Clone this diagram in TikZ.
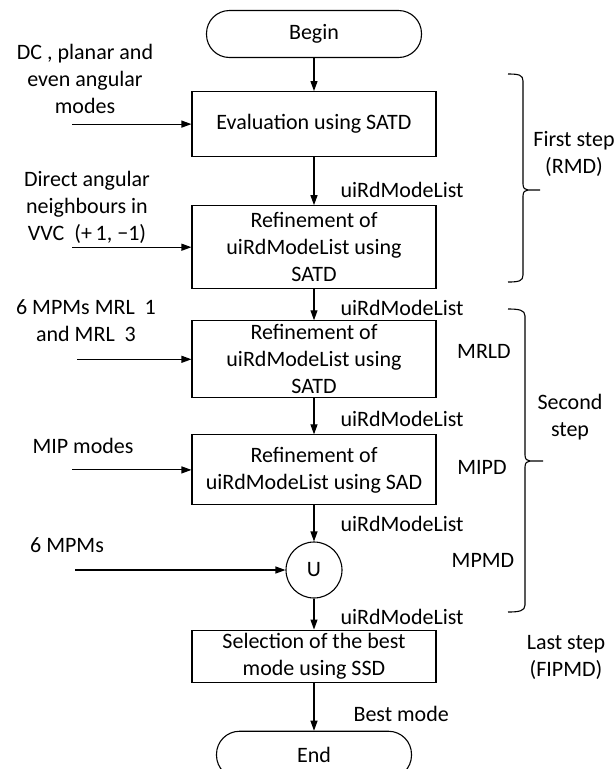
\documentclass[tikz,border=0pt]{standalone}
\usepackage{fontspec}
\setmainfont{Carlito}
\usepackage{tikz}
\usetikzlibrary{positioning,arrows.meta}
\tikzset{
	>={Triangle[length=10pt,width=7pt]},
	dedge/.style={arrows=->, black, line width=1.1pt},
	elabel/.style={anchor=west, inner sep=0pt, xshift=26pt},
}
\tikzstyle{nrect} = [rectangle, minimum width=244pt, line width=1.1pt, draw=black, align=center, inner sep=3pt]
\tikzstyle{nterm} = [nrect, minimum width=215pt, minimum height=47pt, rounded corners=23pt]
\tikzstyle{ntext} = [align=center, inner sep=0pt]
% top, tip, bottom, line x, tip x
\newcommand\stepbrace[5]{%
	\draw[line width=1.1pt] (508,#1) .. controls +(11,0) and +(0,-6) .. (#4,#1+7) -- (#4,#2-6)
		.. controls +(0,4) and +(-3,0) .. (#4+5,#2) -- (#5,#2);
	\draw[line width=1.1pt] (#4+5,#2) .. controls +(-3,0) and +(0,-4) .. (#4,#2+6) -- (#4,#3-7)
		.. controls +(0,6) and +(11,0) .. (508,#3);
}

\begin{document}
\begin{tikzpicture}[x=1pt, y=-1pt, font=\fontsize{22}{27}\selectfont]
	\useasboundingbox (0,0) rectangle (616,769);
	
	\node[nterm] (begin) at (314,34) {Begin};
	\node[nrect, minimum height=65pt] (eval) [below=33pt of begin] {Evaluation using SATD};
	\node[nrect, minimum height=83pt] (ref1) [below=48pt of eval] {Refinement of\\uiRdModeList using\\SATD};
	\node[nrect, minimum height=77pt] (ref2) [below=31pt of ref1] {Refinement of\\uiRdModeList using\\SATD};
	\node[nrect, minimum height=70pt] (ref3) [below=36pt of ref2] {Refinement of\\uiRdModeList using SAD};
	\node[circle, draw, line width=1.1pt, minimum size=56pt, inner sep=0pt] (U) [below=36pt of ref3] {U};
	\node[nrect, minimum height=51pt] (sel) [below=31pt of U] {Selection of the best\\mode using SSD};
	\node[nterm, minimum width=195pt] (end) [below=48pt of sel] {End};
	
	\path (begin) edge[dedge] (eval);
	\path (eval) edge[dedge] node[elabel, pos=0.69] {uiRdModeList} (ref1);
	\path (ref1) edge[dedge] node[elabel, pos=0.6] {uiRdModeList} (ref2);
	\path (ref2) edge[dedge] node[elabel, pos=0.58] {uiRdModeList} (ref3);
	\path (ref3) edge[dedge] node[elabel, pos=0.5] {uiRdModeList} (U);
	\path (U) edge[dedge] node[elabel, pos=0.58] {uiRdModeList} (sel);
	\path (sel) edge[dedge] node[elabel, pos=0.65, xshift=13pt] {Best mode} (end);
	
	% inputs on the left
	\node[ntext] (dcin) at (85,79) {DC , planar and\\even angular\\modes};
	\node[ntext] (dirin) at (87,207) {Direct angular\\neighbours in\\VVC\ \ (+\,1, −1)};
	\node[ntext] (mrlin) at (86,321) {6 MPMs MRL\ \ 1\\and MRL\ \ 3};
	\node[ntext] (mipin) at (83,446) {MIP modes};
	\node[ntext] (mpmin) at (67,545) {6 MPMs};
	\foreach \t/\d in {eval/119, ref1/119, ref2/114, ref3/119, U/210}
	\coordinate (in-\t) at ([xshift=-\d pt]\t.west);
	\foreach \t in {eval,ref1,ref2,ref3,U}
	\path (in-\t) edge[dedge] (\t);
	
	% steps on the right
	\node[ntext] (mrld) at (484,351) {MRLD};
	\node[ntext] (mipd) at (482,467) {MIPD};
	\node[ntext] (mpmd) at (483,560) {MPMD};
	\node[ntext] (first) at (574,154) {First step\\(RMD)};
	\node[ntext] (second) at (570,417) {Second\\step};
	\node[ntext] (last) at (566,657) {Last step\\(FIPMD)};
	\stepbrace{74}{190}{282}{523}{540}
	\stepbrace{309}{461}{612}{525}{543}
\end{tikzpicture}
\end{document}
